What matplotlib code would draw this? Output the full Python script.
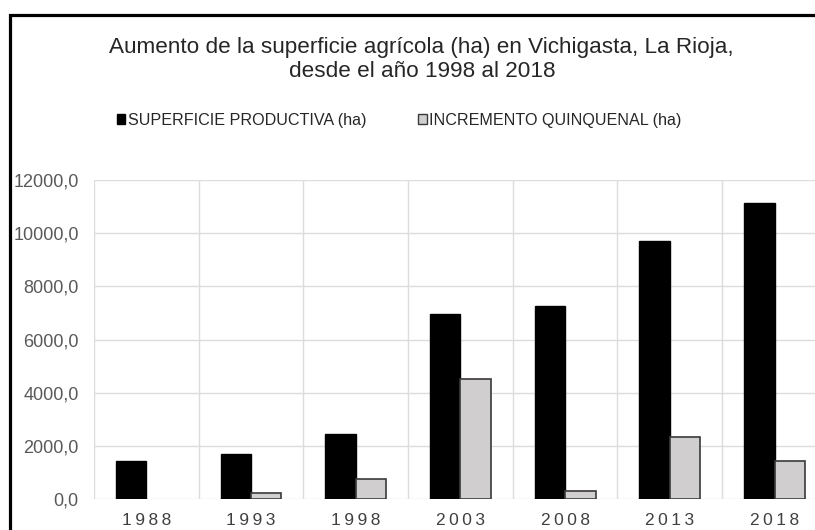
import numpy as np
import matplotlib.pyplot as plt
from matplotlib.patches import Patch, Rectangle

plt.rcParams['font.family'] = ['Liberation Sans', 'DejaVu Sans']

years = ['1988', '1993', '1998', '2003', '2008', '2013', '2018']
superficie = [1450, 1690, 2450, 6970, 7270, 9710, 11150]
incremento = [0, 250, 760, 4520, 320, 2350, 1440]

W, H = 815, 530
fig = plt.figure(figsize=(W / 100, H / 100), dpi=100)
ax = fig.add_axes([94 / W, 1 - 499.3 / H, 7 * 104.7 / W, 319.3 / H])

x = np.arange(len(years)) + 0.5
bw = 0.29
ax.bar(x - bw / 2, superficie, bw, color='black', edgecolor='black', linewidth=1, zorder=3)
ax.bar(x + bw / 2, incremento, bw, color='#d0cece', edgecolor='#3a3a3a',
       linewidth=[0 if v == 0 else 1.2 for v in incremento], zorder=3)

ax.set_xlim(0, 7)
ax.set_ylim(0, 12000)
ax.set_yticks(np.arange(0, 12001, 2000))
ax.set_yticklabels([f'{v:.1f}'.replace('.', ',') for v in np.arange(0, 12001, 2000)])
ax.set_xticks(x)
ax.set_xticklabels(['\u2009'.join(y) for y in years])

ax.grid(False)
for v in np.arange(0, 12001, 2000):
    ax.axhline(v, color='#dcdcdc', linewidth=1, zorder=1)
for v in np.arange(0, 8):
    ax.axvline(v, color='#dcdcdc', linewidth=1, zorder=1)
for s in ax.spines.values():
    s.set_visible(False)

ax.tick_params(axis='both', which='both', length=0)
ax.tick_params(axis='y', labelsize=13, labelcolor='#595959', pad=11)
ax.tick_params(axis='x', labelsize=12.5, labelcolor='#404040', pad=10)

fig.text(421.5 / W, 1 - 53 / H, 'Aumento de la superficie agrícola (ha) en Vichigasta, La Rioja,',
         ha='center', va='baseline', fontsize=16.2, color='#262626')
fig.text(422.5 / W, 1 - 77 / H, 'desde el año 1998 al 2018',
         ha='center', va='baseline', fontsize=16.2, color='#262626')

handles = [Patch(facecolor='black', edgecolor='black', label='SUPERFICIE PRODUCTIVA (ha)'),
           Patch(facecolor='#d0cece', edgecolor='#3a3a3a', label='INCREMENTO QUINQUENAL (ha)')]
fig.legend(handles=handles, loc='center', bbox_to_anchor=(399 / W, 1 - 120 / H), ncol=2,
           frameon=False, fontsize=11.6, handlelength=0.55, handleheight=0.55,
           handletextpad=0.15, columnspacing=3.2, labelcolor='#262626')

# black frame around the chart (cut off on the right and bottom)
fig.add_artist(Rectangle((9.5 / W, -0.1), 1.2, 1.1 - 14.5 / H, transform=fig.transFigure,
                         fill=False, edgecolor='black', linewidth=2.3))

fig.savefig('out.png', dpi=100)
